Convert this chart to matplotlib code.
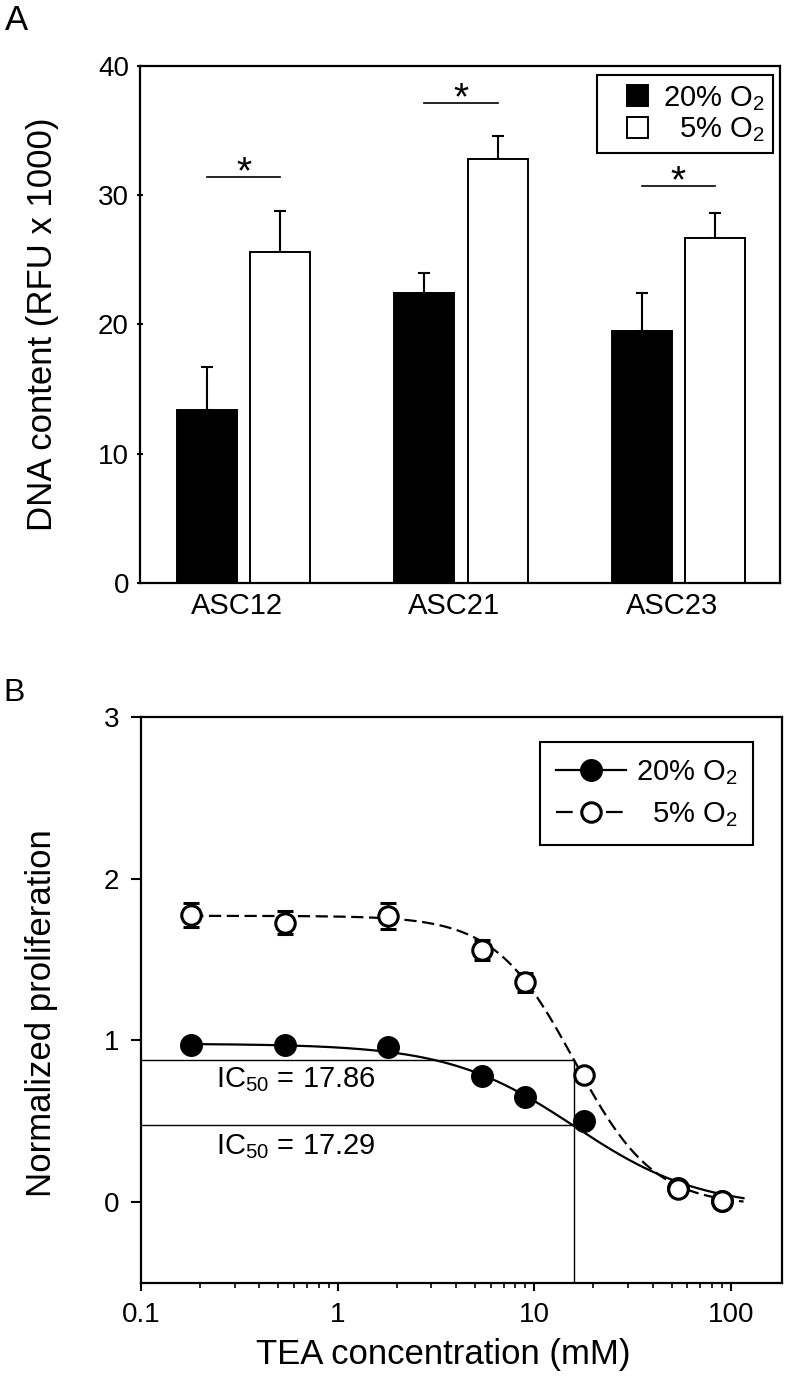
import numpy as np
import matplotlib
matplotlib.use("Agg")
import matplotlib.pyplot as plt
import matplotlib.patches as mpatches
from matplotlib.lines import Line2D
from matplotlib.legend_handler import HandlerPatch
from matplotlib.ticker import FixedLocator, NullFormatter, LogLocator

plt.rcParams["font.family"] = ["Liberation Sans", "DejaVu Sans"]
plt.rcParams["mathtext.fontset"] = "custom"
plt.rcParams["mathtext.rm"] = "Liberation Sans"
plt.rcParams["mathtext.it"] = "Liberation Sans:italic"
plt.rcParams["mathtext.bf"] = "Liberation Sans:bold"

# panel A: DNA content per cell line
cell_lines = ["ASC12", "ASC21", "ASC23"]
dna_20 = [13.4, 22.4, 19.5]
dna_20_err = [3.3, 1.6, 2.95]
dna_5 = [25.6, 32.8, 26.65]
dna_5_err = [3.2, 1.8, 1.95]
sig_heights = [31.4, 37.1, 30.7]

# panel B: TEA dose response
tea_mM = [0.18, 0.54, 1.8, 5.4, 9, 18, 54, 90]
prolif_20 = [0.971, 0.972, 0.959, 0.778, 0.649, 0.505, 0.09, 0.01]
prolif_20_err = [0.02, 0.02, 0.02, 0.03, 0.03, 0.03, 0.02, 0.02]
prolif_5 = [1.775, 1.727, 1.768, 1.559, 1.359, 0.786, 0.084, 0.008]
prolif_5_err = [0.077, 0.072, 0.082, 0.059, 0.06, 0.03, 0.03, 0.02]
# fitted logistic curves: top, bottom, x50, hill
fit_20 = [0.98, -0.04, 16.0, 1.35]
fit_5 = [1.77, -0.02, 16.0, 2.15]
curve_end = 116
ic_x = 16.0
ic_levels = [0.877, 0.48]
ic_labels = ["IC$_{50}$ = 17.86", "IC$_{50}$ = 17.29"]
ic_text_y = [0.712, 0.30]
legend_labels = ["20% O$_2$", "  5% O$_2$"]


def logistic(x, top, bottom, x50, hill):
    return bottom + (top - bottom) / (1 + (x / x50) ** hill)


def square_right(legend, orig_handle, xdescent, ydescent, width, height, fontsize):
    # square legend key pushed to the right of the handle box
    return mpatches.Rectangle((-xdescent + width - height, -ydescent), height, height)


W, H = 789, 1377


def rect(l, t, r, b):
    return [l / W, 1 - b / H, (r - l) / W, (b - t) / H]


fig = plt.figure(figsize=(W / 100, H / 100), dpi=100)
axA = fig.add_axes(rect(140, 65.7, 780, 583))
axB = fig.add_axes(rect(141, 716.7, 782, 1283.3))

# ---- panel A ----
x = np.arange(len(cell_lines))
width, off = 0.276, 0.168
barsA = axA.bar(x - off, dna_20, width, color="black", edgecolor="black", lw=1.4, zorder=2)
barsB = axA.bar(x + off, dna_5, width, color="white", edgecolor="black", lw=1.4, zorder=2)
axA.errorbar(x - off, dna_20, yerr=[np.zeros(3), dna_20_err], fmt="none", ecolor="black",
             elinewidth=1.5, capsize=4.3, capthick=1.5, zorder=1)
axA.errorbar(x + off, dna_5, yerr=[np.zeros(3), dna_5_err], fmt="none", ecolor="black",
             elinewidth=1.5, capsize=4.3, capthick=1.5, zorder=1)
for xi, h in zip(x, sig_heights):
    axA.plot([xi - off, xi + off], [h, h], color="black", lw=1.2)
    axA.text(xi, h - 0.5, "*", ha="center", va="baseline", fontsize=28)

axA.set_xlim(-0.476, 2.467)
axA.set_ylim(0, 40)
axA.set_yticks([0, 10, 20, 30, 40])
axA.set_xticks(x - 0.03)
axA.set_xticklabels(cell_lines)
axA.tick_params(axis="x", length=0, pad=6.5, labelsize=21)
axA.tick_params(axis="y", direction="inout", length=4, width=1.5, labelsize=20, pad=6)
axA.set_ylabel("DNA content (RFU x 1000)", fontsize=25)
axA.yaxis.set_label_coords(-0.127, 0.5)
for s in axA.spines.values():
    s.set_linewidth(1.6)
legA = axA.legend([barsA[0], barsB[0]], legend_labels, loc="upper right",
                  bbox_to_anchor=(0.989, 0.982),
                  fontsize=21, frameon=True, fancybox=False, edgecolor="black",
                  handler_map={mpatches.Rectangle: HandlerPatch(patch_func=square_right)},
                  handlelength=1.45, handleheight=0.72, handletextpad=0.5, borderpad=0.3,
                  labelspacing=0.1, borderaxespad=0)
legA.get_frame().set_linewidth(1.5)
legA.get_frame().set_alpha(1)

# ---- panel B ----
xs = np.logspace(np.log10(tea_mM[0]), np.log10(curve_end), 300)
axB.plot(xs, logistic(xs, *fit_20), color="black", lw=1.6, zorder=2)
axB.plot(xs, logistic(xs, *fit_5), color="black", lw=1.6, ls=(0, (5.5, 2.5)), zorder=2)
for lvl in ic_levels:
    axB.plot([0.1, ic_x], [lvl, lvl], color="black", lw=1.0, zorder=1)
axB.plot([ic_x, ic_x], [-0.5, max(ic_levels)], color="black", lw=1.0, zorder=1)
for ty, lab in zip(ic_text_y, ic_labels):
    axB.text(0.24, ty, lab, fontsize=21, va="baseline", ha="left")

axB.errorbar(tea_mM, prolif_20, yerr=prolif_20_err, fmt="none", ecolor="black",
             elinewidth=1.5, capsize=5, capthick=2.2, zorder=3)
axB.errorbar(tea_mM, prolif_5, yerr=prolif_5_err, fmt="none", ecolor="black",
             elinewidth=1.5, capsize=6, capthick=2.2, zorder=3)
axB.plot(tea_mM, prolif_20, "o", ms=15.5, mfc="black", mec="black", zorder=4)
axB.plot(tea_mM, prolif_5, "o", ms=14, mfc="white", mec="black", mew=2.2, zorder=5)

axB.set_xscale("log")
axB.set_xlim(0.1, 182)
axB.set_ylim(-0.5, 3)
axB.set_yticks([0, 1, 2, 3])
axB.xaxis.set_major_locator(FixedLocator([0.1, 1, 10, 100]))
axB.set_xticklabels(["0.1", "1", "10", "100"])
axB.xaxis.set_minor_locator(LogLocator(base=10, subs=np.arange(2, 10)))
axB.xaxis.set_minor_formatter(NullFormatter())
axB.tick_params(axis="x", which="major", direction="out", length=5.8, width=1.5, labelsize=20, pad=8)
axB.tick_params(axis="x", which="minor", direction="out", length=3.6, width=1.2)
axB.tick_params(axis="y", direction="out", length=7.5, width=1.5, labelsize=20, pad=8)
axB.set_xlabel("TEA concentration (mM)", fontsize=25)
axB.xaxis.set_label_coords(0.472, -0.097)
axB.set_ylabel("Normalized proliferation", fontsize=25)
axB.yaxis.set_label_coords(-0.129, 0.477)
for s in axB.spines.values():
    s.set_linewidth(1.6)

h20 = Line2D([], [], color="black", lw=1.6, marker="o", ms=15.5, mfc="black", mec="black")
h5 = Line2D([], [], color="black", lw=1.6, ls=(0, (7.5, 15)), marker="o", ms=14,
            mfc="white", mec="black", mew=2.2)
legB = axB.legend([h20, h5], legend_labels, loc="upper right", bbox_to_anchor=(0.955, 0.955),
                  fontsize=21, frameon=True, fancybox=False, edgecolor="black",
                  handlelength=2.4, handletextpad=0.34, borderpad=0.55, labelspacing=0.45,
                  borderaxespad=0)
legB.get_frame().set_linewidth(1.5)
legB.get_frame().set_alpha(1)

fig.text(5 / W, 1 - 4 / H, "A", fontsize=25, va="top", ha="left")
fig.text(3 / W, 1 - 678 / H, "B", fontsize=23, va="top", ha="left")

fig.savefig("out.png", dpi=100)
